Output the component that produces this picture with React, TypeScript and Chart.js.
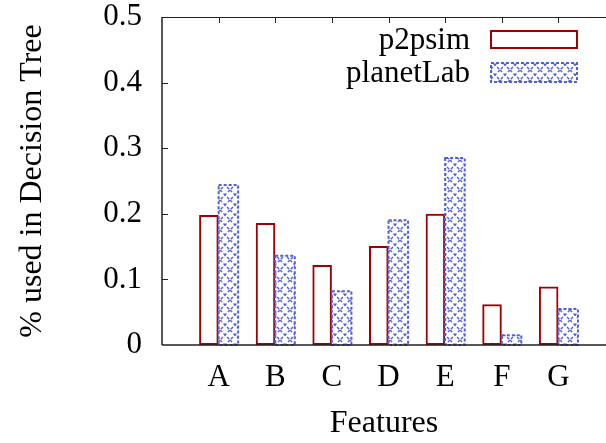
import { useEffect, useRef } from 'react';
import { Chart, registerables } from 'chart.js';

Chart.register(...registerables);

// Feature usage shares for the two testbeds
const FEATURES = ['A', 'B', 'C', 'D', 'E', 'F', 'G'];
const P2PSIM = [0.198, 0.186, 0.122, 0.151, 0.2, 0.062, 0.089];
const PLANETLAB = [0.244, 0.136, 0.082, 0.19, 0.285, 0.015, 0.055];
const SERIES_NAMES = ['p2psim', 'planetLab'];
const Y_MIN = 0;
const Y_MAX = 0.5;
const Y_STEP = 0.1;

const RED = '#a00000';
const BLUE = '#5060d8';
const FONT_FAMILY = '"Liberation Serif", "Times New Roman", serif';
const TICK_SIZE = 31;
const TITLE_SIZE = 32;

function makeCrossPattern(): CanvasPattern | string {
  const s = 10;
  const tile = document.createElement('canvas');
  tile.width = s;
  tile.height = s;
  const c = tile.getContext('2d');
  if (!c) return 'transparent';
  c.fillStyle = '#ffffff';
  c.fillRect(0, 0, s, s);
  c.strokeStyle = 'rgba(80,96,216,1)';
  c.lineWidth = 1.4;
  c.setLineDash([3, 2]);
  c.beginPath();
  c.moveTo(0, 0);
  c.lineTo(s, s);
  c.moveTo(s, 0);
  c.lineTo(0, s);
  c.stroke();
  return c.createPattern(tile, 'repeat') || 'transparent';
}

// Frame, inward tick marks, dashed outlines and the key (text left of swatch)
const framePlugin = {
  id: 'gnuFrame',
  afterDatasetsDraw(chart: any) {
    const { ctx, chartArea, scales } = chart;
    const { left, top, right, bottom } = chartArea;
    const x = scales.x;
    const y = scales.y;

    // dashed outline for the hatched series
    const meta = chart.getDatasetMeta(1);
    ctx.save();
    ctx.strokeStyle = BLUE;
    ctx.lineWidth = 2;
    ctx.setLineDash([3, 2]);
    meta.data.forEach((el: any) => {
      const p = el.getProps(['x', 'y', 'base', 'width'], true);
      ctx.strokeRect(p.x - p.width / 2, p.y, p.width, p.base - p.y);
    });
    ctx.restore();

    ctx.save();
    ctx.strokeStyle = '#222';
    ctx.lineWidth = 1.5;
    ctx.beginPath();
    ctx.moveTo(left, top);
    ctx.lineTo(left, bottom);
    ctx.moveTo(left, bottom);
    ctx.lineTo(right, bottom);
    ctx.stroke();
    ctx.lineWidth = 1;
    ctx.beginPath();
    ctx.moveTo(left, top + 0.5);
    ctx.lineTo(right, top + 0.5);
    // y ticks pointing inward
    for (let v = Y_MIN + Y_STEP; v < Y_MAX - 1e-9; v += Y_STEP) {
      const py = Math.round(y.getPixelForValue(v)) + 0.5;
      ctx.moveTo(left, py);
      ctx.lineTo(left + 6, py);
    }
    // mirrored category ticks along the top
    FEATURES.forEach((_, i) => {
      const px = Math.round(x.getPixelForValue(i + 1)) + 0.5;
      ctx.moveTo(px, top);
      ctx.lineTo(px, top + 6);
    });
    ctx.stroke();
    ctx.restore();

    // key
    ctx.save();
    ctx.font = `${TICK_SIZE}px ${FONT_FAMILY}`;
    ctx.fillStyle = '#000';
    ctx.textAlign = 'right';
    ctx.textBaseline = 'middle';
    const textRight = left + 308;
    const boxLeft = left + 329;
    const boxW = 86;
    const rows = [
      { cy: top + 22.5, h: 17 },
      { cy: top + 55.5, h: 19 },
    ];
    rows.forEach((r, i) => {
      ctx.fillText(chart.data.datasets[i].label, textRight, r.cy + 1);
      const by = r.cy - r.h / 2;
      if (i === 0) {
        ctx.strokeStyle = RED;
        ctx.lineWidth = 2;
        ctx.strokeRect(boxLeft, by, boxW, r.h);
      } else {
        ctx.fillStyle = chart.data.datasets[1].backgroundColor;
        ctx.fillRect(boxLeft, by, boxW, r.h);
        ctx.strokeStyle = BLUE;
        ctx.lineWidth = 2;
        ctx.setLineDash([3, 2]);
        ctx.strokeRect(boxLeft, by, boxW, r.h);
        ctx.setLineDash([]);
        ctx.fillStyle = '#000';
      }
    });
    ctx.restore();
  },
};

export default function App() {
  const ref = useRef<HTMLCanvasElement | null>(null);

  useEffect(() => {
    const canvas = ref.current;
    if (!canvas) return;
    const font = { family: FONT_FAMILY, size: TICK_SIZE, lineHeight: 1 };
    const titleFont = { family: FONT_FAMILY, size: TITLE_SIZE, lineHeight: 1.2 };
    const chart = new Chart(canvas, {
      type: 'bar',
      data: {
        datasets: [
          {
            label: SERIES_NAMES[0],
            data: P2PSIM.map((v, i) => ({ x: i + 1, y: v })),
            backgroundColor: 'rgba(255,255,255,0)',
            borderColor: RED,
            borderWidth: 2,
            borderSkipped: false,
          },
          {
            label: SERIES_NAMES[1],
            data: PLANETLAB.map((v, i) => ({ x: i + 1, y: v })),
            backgroundColor: makeCrossPattern() as any,
            borderWidth: 0,
          },
        ],
      },
      options: {
        responsive: false,
        animation: false,
        devicePixelRatio: 1,
        categoryPercentage: 0.69,
        barPercentage: 1,
        layout: { padding: 0 },
        plugins: { legend: { display: false }, tooltip: { enabled: false } },
        scales: {
          x: {
            type: 'linear',
            min: 0,
            max: 7.84,
            offset: false,
            grid: { display: false, drawTicks: false },
            border: { display: false },
            ticks: {
              stepSize: 1,
              autoSkip: false,
              maxRotation: 0,
              includeBounds: false,
              padding: 17,
              color: '#000',
              font,
              callback: (v: any) => {
                const n = Number(v);
                return Number.isInteger(n) && n >= 1 && n <= FEATURES.length ? FEATURES[n - 1] : '';
              },
            },
            title: {
              display: true,
              text: 'Features',
              color: '#000',
              font: titleFont,
              padding: { top: 0, bottom: 0 },
            },
            afterFit: (s: any) => {
              s.height = 98;
              s.paddingLeft = 0;
              s.paddingRight = 0;
            },
          },
          y: {
            min: Y_MIN,
            max: Y_MAX,
            grid: { display: false, drawTicks: false },
            border: { display: false },
            ticks: {
              stepSize: Y_STEP,
              padding: 20,
              color: '#000',
              font,
              callback: (v: any) => (Number(v) === 0 ? '0' : Number(v).toFixed(1)),
            },
            title: {
              display: true,
              text: '% used in Decision Tree',
              color: '#000',
              font: titleFont,
              padding: { top: 13, bottom: 0 },
            },
            afterFit: (s: any) => {
              s.width = 162;
              s.paddingTop = 17;
              s.paddingBottom = 0;
            },
          },
        },
      } as any,
      plugins: [framePlugin],
    });
    return () => chart.destroy();
  }, []);

  return (
    <div style={{ position: 'absolute', left: 0, top: 0, width: 606, height: 443, background: '#fff', overflow: 'hidden' }}>
      <canvas ref={ref} width={606} height={443} />
    </div>
  );
}
